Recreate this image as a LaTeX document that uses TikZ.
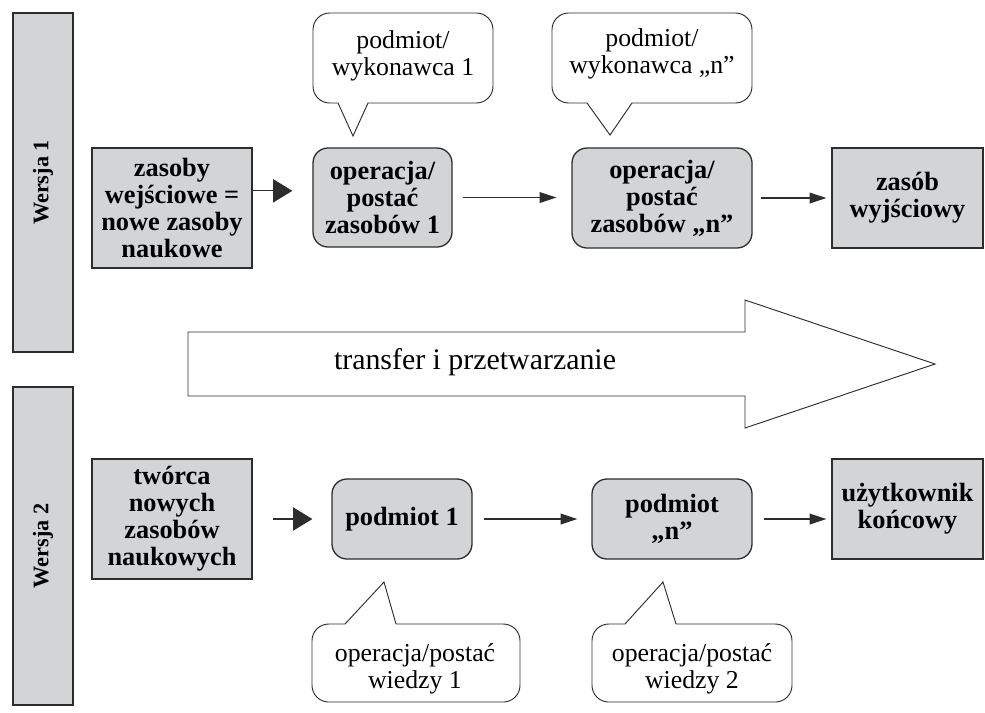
\documentclass[tikz,border=0pt]{standalone}
\usepackage{fontspec}
\setmainfont{Liberation Serif}
\usetikzlibrary{arrows.meta}

\definecolor{szary}{RGB}{211,212,214}
\definecolor{ramka}{RGB}{45,45,45}

\begin{document}
\begin{tikzpicture}[x=0.3mm, y=-0.3mm,
    pole/.style={draw=ramka, line width=1.1pt, fill=szary, align=center, inner sep=0pt,
        font=\bfseries\fontsize{22.5}{23}\selectfont},
    zaokr/.style={pole, rounded corners=4.5mm},
    pasek/.style={draw=ramka, line width=1.1pt, fill=szary, rotate=90, minimum height=18mm,
        font=\bfseries\fontsize{19}{20}\selectfont},
    dymek/.style={draw=ramka, line width=0.8pt},
    opis/.style={align=center, font=\fontsize{22}{23}\selectfont},
    duza/.style={-{Triangle[length=5.8mm,width=7mm]}, line width=1.1pt, ramka},
    mala/.style={-{Triangle[length=5mm,width=3.2mm]}, line width=1.1pt, ramka}]

    \useasboundingbox (0,0) rectangle (985,712);

    % 1. Paski wersji
    \node[pasek, minimum width=101.7mm] (w1) at (43,182.5) {Wersja 1};
    \node[pasek, minimum width=95.4mm]  (w2) at (43,546)   {Wersja 2};

    % 2. Wersja 1 - zasoby i operacje
    \node[pole,  minimum width=48mm,   minimum height=36mm]   (wej) at (172,208)     {zasoby\\wejściowe =\\nowe zasoby\\naukowe};
    \node[zaokr, minimum width=41.7mm, minimum height=29.7mm] (op1) at (382.5,197.5) {operacja/\\postać\\zasobów 1};
    \node[zaokr, minimum width=54mm,   minimum height=30mm]   (opn) at (662,198)     {operacja/\\postać\\zasobów „n”};
    \node[pole,  minimum width=45.3mm, minimum height=30mm]   (wyj) at (907.5,198)   {zasób\\wyjściowy};

    \draw[duza, shorten >=6mm] ([yshift=2mm]op1.west -| wej.east) -- ([yshift=2mm]op1.west);
    \draw[mala, shorten <=3mm, shorten >=4.5mm] (op1.east) -- (op1.east -| opn.west);
    \draw[mala, shorten <=2.4mm, shorten >=1.5mm] (opn.east) -- (opn.east -| wyj.west);

    % 3. Dymki nad operacjami
    \draw[dymek] (403,13) [rounded corners=5mm] -- (313,13) -- (313,103) [sharp corners]
        -- (338,103) -- (353,136) -- (368,103) [rounded corners=5mm] -- (493,103) -- (493,13) -- cycle;
    \draw[dymek] (652,13) [rounded corners=5mm] -- (552,13) -- (552,103) [sharp corners]
        -- (587,103) -- (610,135) -- (632,103) [rounded corners=5mm] -- (752,103) -- (752,13) -- cycle;
    \node[opis] (d1) at (403,56) {podmiot/\\wykonawca 1};
    \node[opis] (d2) at (652,54) {podmiot/\\wykonawca „n”};

    % 4. Duza strzalka
    \draw[line width=0.8pt, ramka] (188,332) -- (745,332) -- (745,300) -- (935,364)
        -- (745,428) -- (745,396) -- (188,396) -- cycle;
    \node[font=\fontsize{25.5}{26}\selectfont] (tr) at (475,362) {transfer i przetwarzanie};

    % 5. Wersja 2 - podmioty
    \node[pole,  minimum width=48mm,   minimum height=36mm] (tw)   at (172,519)   {twórca\\nowych\\zasobów\\naukowych};
    \node[zaokr, minimum width=42mm,   minimum height=24mm] (pod1) at (402,519)   {podmiot 1};
    \node[zaokr, minimum width=48mm,   minimum height=24mm] (podn) at (672,519)   {podmiot\\„n”};
    \node[pole,  minimum width=45.3mm, minimum height=30mm] (uz)   at (907.5,509) {użytkownik\\końcowy};

    \draw[duza, shorten <=6mm, shorten >=5.7mm] (tw.east) -- (pod1.west);
    \draw[mala, shorten <=3.3mm, shorten >=4.2mm] (pod1.east) -- (podn.west);
    \draw[mala, shorten <=3.3mm, shorten >=1.5mm] (podn.east) -- (podn.east -| uz.west);

    % 6. Dymki pod podmiotami
    \draw[dymek] (416,702) [rounded corners=5mm] -- (312,702) -- (312,624) [sharp corners]
        -- (345,624) -- (384,582) -- (396,624) [rounded corners=5mm] -- (520,624) -- (520,702) -- cycle;
    \draw[dymek] (692,702) [rounded corners=5mm] -- (592,702) -- (592,624) [sharp corners]
        -- (625,624) -- (663,582) -- (676,624) [rounded corners=5mm] -- (792,624) -- (792,702) -- cycle;
    \node[opis] (d3) at (415,669) {operacja/postać\\wiedzy 1};
    \node[opis] (d4) at (692,669) {operacja/postać\\wiedzy 2};

\end{tikzpicture}
\end{document}
